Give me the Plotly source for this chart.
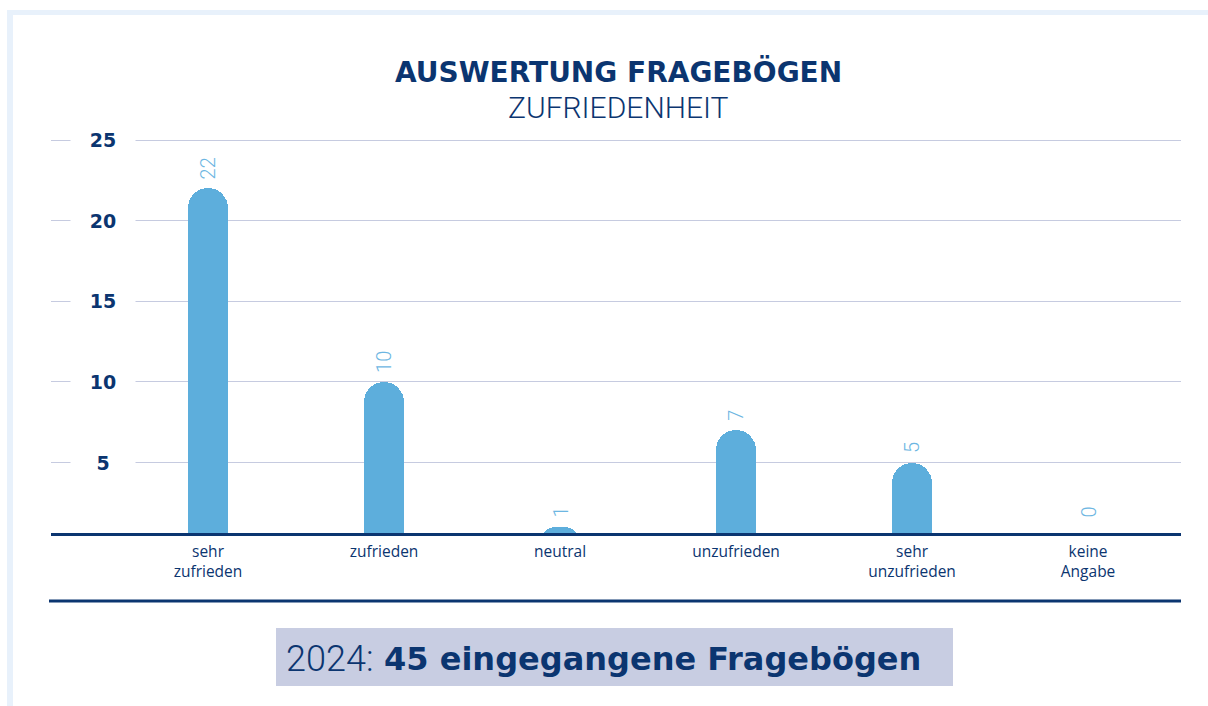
import plotly.graph_objects as go

# ---- data ----
categories = ["sehr<br>zufrieden", "zufrieden", "neutral", "unzufrieden", "sehr<br>unzufrieden", "keine<br>Angabe"]
values = [22, 10, 1, 7, 5, 0]
y_ticks = [5, 10, 15, 20, 25]
title_main = "AUSWERTUNG FRAGEBÖGEN"
title_sub = "ZUFRIEDENHEIT"
footer_year = "2024:"
footer_text = "45 eingegangene Fragebögen"

NAVY = "#0b3570"
BAR = "#5daedc"
LABEL = "#6cb6e2"
GRID = "#c6cbe0"
FRAME = "#e8f1fb"
BOX = "#c8cde2"

W, H = 1208, 706
L, R, T, B = 51, 1181, 132, 533
PW, PH = R - L, B - T


def px(x):
    return (x - L) / PW


def py(y):
    return (B - y) / PH


fig = go.Figure()
fig.add_trace(go.Bar(
    x=list(range(len(categories))), y=values,
    marker=dict(color=BAR, cornerradius="50%", line=dict(width=0)),
    width=0.227, hoverinfo="skip",
))

annotations = []
# value labels
for i, v in enumerate(values):
    annotations.append(dict(
        x=i, y=max(v, 1), xref="x", yref="y", text=str(v), showarrow=False,
        textangle=-90, yanchor="bottom", xanchor="center", yshift=7,
        font=dict(family="Roboto", size=20, color=LABEL, weight=300),
    ))
# y tick labels with white gap in gridlines
for t in y_ticks:
    annotations.append(dict(
        x=px(103), y=t, xref="paper", yref="y", text=str(t), showarrow=False,
        xanchor="center", yanchor="middle", bgcolor="white", width=62,
        font=dict(family="DejaVu Sans", size=19, color=NAVY, weight="bold"),
    ))
# titles
annotations.append(dict(
    x=px(618), y=py(72), xref="paper", yref="paper", text=title_main, showarrow=False,
    xanchor="center", yanchor="middle",
    font=dict(family="DejaVu Sans", size=28, color=NAVY, weight="bold"),
))
annotations.append(dict(
    x=px(618), y=py(108), xref="paper", yref="paper", text=title_sub, showarrow=False,
    xanchor="center", yanchor="middle",
    font=dict(family="Roboto", size=30, color=NAVY, weight=300),
))
# footer
annotations.append(dict(
    x=px(284), y=py(659), xref="paper", yref="paper", text=footer_year, showarrow=False,
    xanchor="left", yanchor="middle",
    font=dict(family="Roboto", size=36, color=NAVY, weight=300),
))
annotations.append(dict(
    x=px(382), y=py(659), xref="paper", yref="paper", text=footer_text, showarrow=False,
    xanchor="left", yanchor="middle",
    font=dict(family="DejaVu Sans", size=32, color=NAVY, weight="bold"),
))

shapes = [
    # frame strips
    dict(type="rect", xref="paper", yref="paper", x0=px(7), x1=px(13), y0=py(706), y1=py(10),
         fillcolor=FRAME, line=dict(width=0), layer="below"),
    dict(type="rect", xref="paper", yref="paper", x0=px(7), x1=px(1208), y0=py(15), y1=py(10),
         fillcolor=FRAME, line=dict(width=0), layer="below"),
    # lower separator line
    dict(type="line", xref="paper", yref="paper", x0=px(49), x1=px(1181), y0=py(601), y1=py(601),
         line=dict(color=NAVY, width=3)),
    # footer box
    dict(type="rect", xref="paper", yref="paper", x0=px(276), x1=px(953), y0=py(686), y1=py(628),
         fillcolor=BOX, line=dict(width=0), layer="below"),
]

fig.update_layout(
    width=W, height=H,
    margin=dict(l=L, r=W - R, t=T, b=H - B, pad=0),
    paper_bgcolor="white", plot_bgcolor="white",
    showlegend=False,
    annotations=annotations, shapes=shapes,
    bargap=0,
    xaxis=dict(
        range=[-0.892, 5.528], tickmode="array", tickvals=list(range(len(categories))),
        ticktext=categories, showgrid=False, zeroline=False,
        showline=True, linecolor=NAVY, linewidth=3, ticks="",
        tickfont=dict(family="Open Sans", size=15.5, color=NAVY),
        ticklabelstandoff=2,
    ),
    yaxis=dict(
        range=[0.63, 25.5], tickvals=y_ticks, showticklabels=False,
        showgrid=True, gridcolor=GRID, gridwidth=1, zeroline=False, showline=False,
    ),
)

fig.write_html(
    "out.html",
    config={"displayModeBar": False},
    post_script="document.body.style.margin='0';document.body.style.overflow='hidden';",
)
